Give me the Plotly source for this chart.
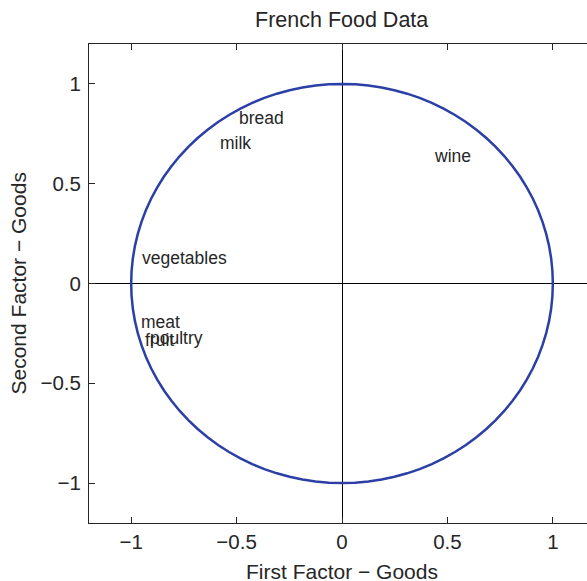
import numpy as np
import plotly.graph_objects as go

# Label positions (factor loadings)
goods = ["bread", "milk", "wine", "vegetables", "meat", "fruit", "poultry"]
factor1 = [-0.498, -0.586, 0.425, -0.959, -0.961, -0.942, -0.918]
factor2 = [0.828, 0.702, 0.639, 0.126, -0.191, -0.283, -0.273]

tick_vals = [-1, -0.5, 0, 0.5, 1]
tick_text = ["\u22121", "\u22120.5", "0", "0.5", "1"]

radius = 1.0
theta = np.linspace(0, 2 * np.pi, 101)
cx = radius * np.cos(theta)
cy = radius * np.sin(theta)

FONT = "Liberation Sans, Arial, sans-serif"
TXT = "#262626"

fig = go.Figure()
fig.add_trace(go.Scatter(x=cx, y=cy, mode="lines",
                         line=dict(color="#2b3fa6", width=2.5),
                         hoverinfo="skip", showlegend=False))

for name, x, y in zip(goods, factor1, factor2):
    fig.add_annotation(x=x, y=y, xref="x", yref="y", text=name,
                       showarrow=False, xanchor="left", yanchor="middle",
                       font=dict(family=FONT, size=17.5, color=TXT))

axis_common = dict(
    showgrid=False, zeroline=True, zerolinecolor="#000000", zerolinewidth=1,
    showline=True, linecolor="#262626", linewidth=1,
    ticks="inside", ticklen=6, tickcolor="#262626", tickwidth=1,
    tickvals=tick_vals, ticktext=tick_text,
    tickfont=dict(family=FONT, size=20.5, color=TXT),
)

fig.update_xaxes(range=[-1.2, 1.2], mirror="ticks", **axis_common)
fig.update_yaxes(range=[-1.2, 1.2], mirror=False, ticklabelstandoff=3,
                 **axis_common)

PW = 506.0
xc = (341.5 - 89) / PW
fig.add_annotation(text="French Food Data", xref="paper", yref="paper",
                   x=xc, y=1, yshift=24, showarrow=False,
                   xanchor="center", yanchor="middle",
                   font=dict(family=FONT, size=21.5, color=TXT))
fig.add_annotation(text="First Factor \u2212 Goods", xref="paper", yref="paper",
                   x=xc, y=0, yshift=-48, showarrow=False,
                   xanchor="center", yanchor="middle",
                   font=dict(family=FONT, size=21, color=TXT))
fig.add_annotation(text="Second Factor \u2212 Goods", xref="paper", yref="paper",
                   x=0, xshift=-71, y=0.5, showarrow=False, textangle=-90,
                   xanchor="center", yanchor="middle",
                   font=dict(family=FONT, size=21, color=TXT))

fig.update_layout(
    width=595, height=581,
    margin=dict(l=89, r=0, t=44, b=58),
    plot_bgcolor="white", paper_bgcolor="white",
    showlegend=False,
)

fig.write_html(
    "out.html",
    config={"displayModeBar": False},
    post_script=(
        "document.documentElement.style.overflow='hidden';"
        "document.body.style.overflow='hidden';"
        "document.body.style.margin='0';"
    ),
)
